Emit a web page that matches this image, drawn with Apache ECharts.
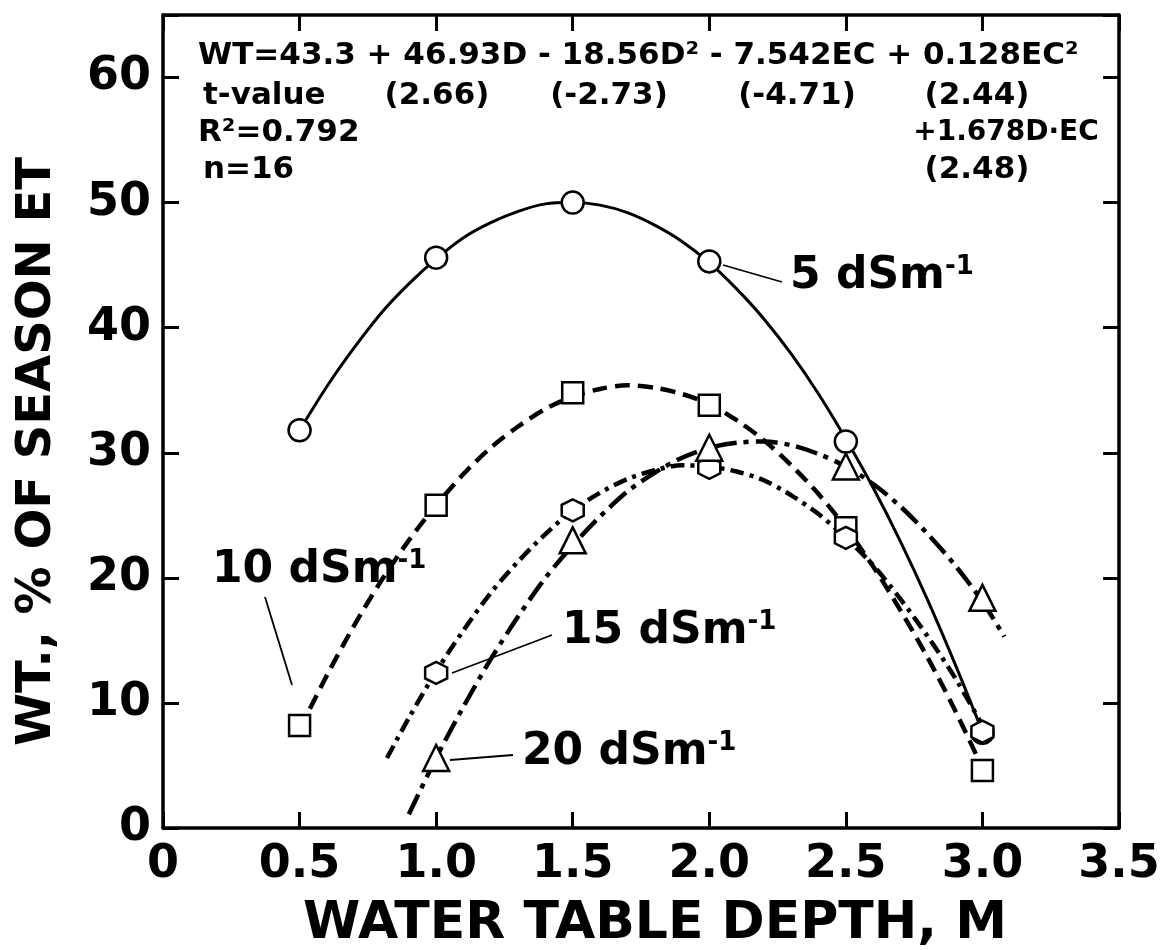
<!DOCTYPE html>
<html>
<head>
<meta charset="utf-8">
<script src="https://cdn.jsdelivr.net/npm/echarts@6/dist/echarts.min.js"></script>
<style>html,body{margin:0;padding:0;background:#fff;}</style>
</head>
<body>
<div id="main" style="width:1163px;height:950px;"></div>
<script type="text/javascript">
// 观测点 (depth, % of season ET)
var pointDepths = [0.5, 1.0, 1.5, 2.0, 2.5, 3.0];
var ec5Points = [31.8, 45.6, 50.0, 45.3, 30.9, 7.6];
var ec10Points = [8.2, 25.8, 34.8, 33.8, 24.0, 4.6];
var ec15Depths = [1.0, 1.5, 2.0, 2.5, 3.0];
var ec15Points = [12.4, 25.4, 28.8, 23.2, 7.7];
var ec20Depths = [1.0, 1.5, 2.0, 2.5, 3.0];
var ec20Points = [5.6, 23.0, 30.4, 28.9, 18.4];

// fitted curves
var curveDepths = [0.5, 0.6, 0.7, 0.8, 0.9, 1.0, 1.1, 1.2, 1.3, 1.4, 1.5, 1.6, 1.7,
                   1.8, 1.9, 2.0, 2.1, 2.2, 2.3, 2.4, 2.5, 2.6, 2.7, 2.8, 2.9, 3.0];
var ec5Curve = [31.8, 35.3, 38.4, 41.2, 43.5, 45.5, 47.2, 48.4, 49.3, 49.9, 50.0, 49.8, 49.2,
                48.2, 46.9, 45.2, 43.1, 40.7, 37.9, 34.7, 31.1, 27.2, 22.9, 18.2, 13.1, 7.7];
var ec10Curve = [7.9, 12.2, 16.2, 19.8, 23.0, 25.8, 28.3, 30.4, 32.1, 33.5, 34.5, 35.1, 35.4,
                 35.2, 34.7, 33.9, 32.6, 31.0, 29.0, 26.7, 24.0, 20.9, 17.4, 13.6, 9.4, 4.8];
var ec15CurveDepths = [0.82, 0.9, 1.0, 1.1, 1.2, 1.3, 1.4, 1.5, 1.6, 1.7, 1.8, 1.9, 2.0,
                       2.1, 2.2, 2.3, 2.4, 2.5, 2.6, 2.7, 2.8, 2.9, 3.0];
var ec15Curve = [5.6, 8.8, 12.5, 15.8, 18.8, 21.3, 23.5, 25.4, 26.8, 27.9, 28.6, 29.0, 28.9,
                 28.5, 27.8, 26.6, 25.1, 23.2, 21.0, 18.3, 15.3, 12.0, 8.2];
var ec20CurveDepths = [0.9, 1.0, 1.1, 1.2, 1.3, 1.4, 1.5, 1.6, 1.7, 1.8, 1.9, 2.0, 2.1,
                       2.2, 2.3, 2.4, 2.5, 2.6, 2.7, 2.8, 2.9, 3.0, 3.08];
var ec20Curve = [1.1, 5.6, 9.7, 13.5, 16.9, 20.0, 22.6, 24.9, 26.9, 28.4, 29.6, 30.4, 30.8,
                 30.9, 30.6, 29.9, 28.9, 27.5, 25.7, 23.5, 21.0, 18.1, 15.3];

var xTickLabels = ['0', '0.5', '1.0', '1.5', '2.0', '2.5', '3.0', '3.5'];
var yTickLabels = ['0', '10', '20', '30', '40', '50', '60'];

function zip(xs, ys) {
    return xs.map(function (x, i) { return [x, ys[i]]; });
}

var FONT = 'DejaVu Sans';
var hexagon = 'path://M0,-10 L8.66,-5 L8.66,5 L0,10 L-8.66,5 L-8.66,-5 Z';

function frameLine() {
    return { show: true, onZero: false, lineStyle: { color: '#000', width: 3.5 } };
}
function innerTick() {
    return { show: true, inside: true, length: 16, lineStyle: { color: '#000', width: 3 } };
}

function curve(data, dash, width) {
    return {
        type: 'line', data: data, showSymbol: false, smooth: 0.3, silent: true, z: 2,
        xAxisIndex: 0, yAxisIndex: 0,
        lineStyle: { color: '#000', width: width, type: dash, opacity: 1 }
    };
}
function points(data, symbol, size) {
    return {
        type: 'scatter', data: data, symbol: symbol, symbolSize: size, z: 5, silent: true,
        xAxisIndex: 0, yAxisIndex: 0,
        itemStyle: { color: '#fff', borderColor: '#000', borderWidth: 2.5, opacity: 1 }
    };
}

function eqText(str, x, y, align, size) {
    return {
        type: 'text', x: x, y: y, z: 20,
        style: {
            text: str, align: align || 'left', verticalAlign: 'middle',
            fontFamily: FONT, fontWeight: 'bold', fontSize: size || 31, fill: '#000'
        }
    };
}
function ecLabel(num, x, y) {
    return {
        type: 'text', x: x, y: y, z: 20,
        style: {
            text: '{n|' + num + ' dSm}{s|-1}', align: 'left', verticalAlign: 'middle',
            rich: {
                n: { fontFamily: FONT, fontWeight: 'bold', fontSize: 44, color: '#000' },
                s: { fontFamily: FONT, fontWeight: 'bold', fontSize: 26, color: '#000', padding: [0, 0, 20, 0] }
            }
        }
    };
}
function leader(x1, y1, x2, y2) {
    return {
        type: 'line', z: 20,
        shape: { x1: x1, y1: y1, x2: x2, y2: y2 },
        style: { stroke: '#000', lineWidth: 1.8 }
    };
}

var myChart = echarts.init(document.getElementById('main'));
var option = {
    animation: false,
    backgroundColor: '#fff',
    grid: { left: 163, right: 44, top: 15, bottom: 122, containLabel: false, outerBoundsMode: 'none' },
    xAxis: [
        {
            type: 'value', min: 0, max: 3.5, interval: 0.5, position: 'bottom',
            name: 'WATER TABLE DEPTH, M', nameLocation: 'middle', nameGap: 70,
            nameTextStyle: { fontFamily: FONT, fontWeight: 'bold', fontSize: 52, color: '#000', padding: [0, 0, 0, 28] },
            axisLine: frameLine(), axisTick: innerTick(), splitLine: { show: false },
            axisLabel: {
                margin: 14, fontFamily: FONT, fontWeight: 'bold', fontSize: 46, color: '#000',
                formatter: function (v) { return xTickLabels[Math.round(v / 0.5)]; }
            }
        },
        {
            type: 'value', min: 0, max: 3.5, interval: 0.5, position: 'top',
            axisLine: frameLine(), axisTick: innerTick(), axisLabel: { show: false }, splitLine: { show: false }
        }
    ],
    yAxis: [
        {
            type: 'value', min: 0, max: 65, interval: 10, position: 'left',
            name: 'WT., % OF SEASON ET', nameLocation: 'middle', nameGap: 101,
            nameTextStyle: { fontFamily: FONT, fontWeight: 'bold', fontSize: 48, color: '#000', padding: [0, 60, 0, 0] },
            axisLine: frameLine(), axisTick: innerTick(), splitLine: { show: false },
            axisLabel: {
                margin: 12, fontFamily: FONT, fontWeight: 'bold', fontSize: 46, color: '#000',
                formatter: function (v) { return v > 60 ? '' : yTickLabels[Math.round(v / 10)]; }
            }
        },
        {
            type: 'value', min: 0, max: 65, interval: 10, position: 'right',
            axisLine: frameLine(), axisTick: innerTick(), axisLabel: { show: false }, splitLine: { show: false }
        }
    ],
    series: [
        curve(zip(curveDepths, ec5Curve), 'solid', 3),
        curve(zip(curveDepths, ec10Curve), [15, 8], 4.5),
        curve(zip(ec15CurveDepths, ec15Curve), [14, 6, 4, 6], 4.5),
        curve(zip(ec20CurveDepths, ec20Curve), [22, 7, 5, 7], 4.5),
        points(zip(pointDepths, ec5Points), 'circle', 22),
        points(zip(pointDepths, ec10Points), 'rect', 21),
        points(zip(ec15Depths, ec15Points), hexagon, 22),
        points(zip(ec20Depths, ec20Points), 'triangle', 26)
    ],
    graphic: [
        eqText('WT=43.3 + 46.93D - 18.56D² - 7.542EC + 0.128EC²', 198, 56),
        eqText('t-value', 203, 96),
        eqText('(2.66)', 437, 96, 'center'),
        eqText('(-2.73)', 609, 96, 'center'),
        eqText('(-4.71)', 797, 96, 'center'),
        eqText('(2.44)', 977, 96, 'center'),
        eqText('R²=0.792', 198, 133),
        eqText('+1.678D·EC', 1006, 133, 'center', 28),
        eqText('n=16', 203, 170),
        eqText('(2.48)', 977, 170, 'center'),
        ecLabel('5', 790, 277),
        leader(723, 265, 782, 282),
        ecLabel('10', 212, 571),
        leader(265, 597, 292, 685),
        ecLabel('15', 562, 632),
        leader(552, 635, 452, 673),
        ecLabel('20', 522, 753),
        leader(513, 755, 450, 760)
    ]
};
myChart.setOption(option);
</script>
</body>
</html>
